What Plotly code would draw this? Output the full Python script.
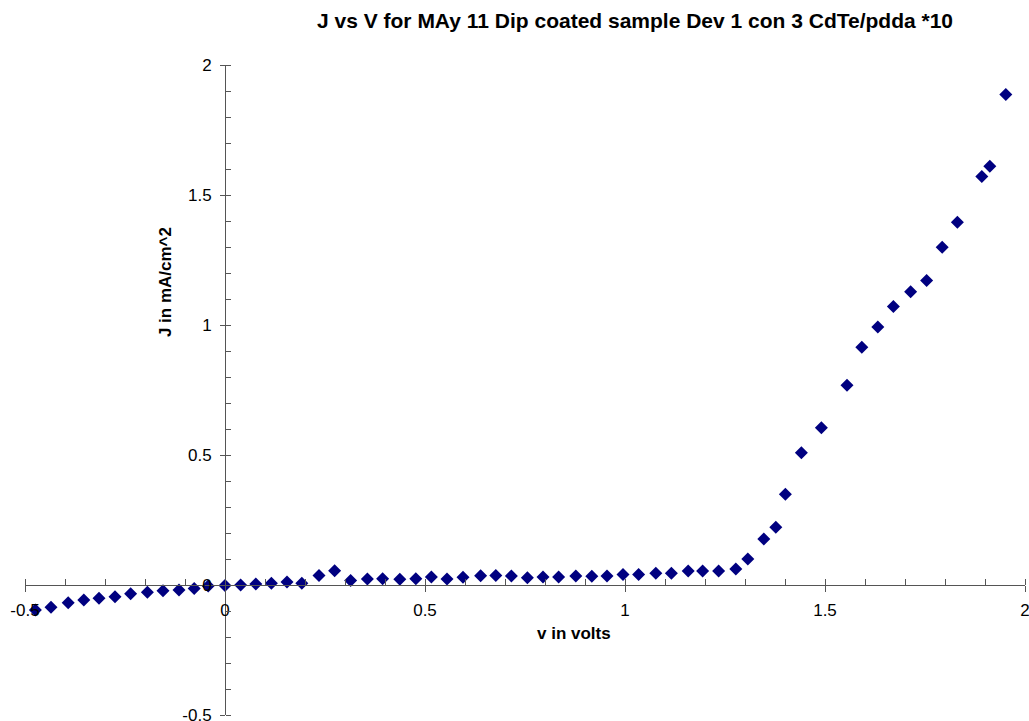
import plotly.graph_objects as go

voltage = [-0.474, -0.435, -0.392, -0.353, -0.315, -0.275, -0.236, -0.194, -0.155, -0.115,
           -0.077, -0.042, 0.0, 0.039, 0.077, 0.116, 0.155, 0.192, 0.235, 0.274,
           0.314, 0.356, 0.394, 0.437, 0.477, 0.516, 0.555, 0.595, 0.639, 0.677,
           0.716, 0.756, 0.795, 0.834, 0.877, 0.917, 0.955, 0.995, 1.034, 1.077,
           1.116, 1.158, 1.194, 1.234, 1.277, 1.307, 1.347, 1.377, 1.401, 1.441,
           1.491, 1.555, 1.592, 1.632, 1.671, 1.714, 1.754, 1.793, 1.831, 1.892,
           1.912, 1.952]
current = [-0.096, -0.086, -0.068, -0.058, -0.051, -0.045, -0.034, -0.028, -0.022, -0.019,
           -0.013, -0.004, -0.002, 0.0, 0.004, 0.007, 0.012, 0.007, 0.037, 0.055,
           0.017, 0.023, 0.024, 0.022, 0.024, 0.031, 0.023, 0.030, 0.036, 0.037,
           0.035, 0.028, 0.031, 0.031, 0.035, 0.034, 0.035, 0.040, 0.040, 0.045,
           0.045, 0.054, 0.054, 0.054, 0.062, 0.100, 0.177, 0.222, 0.349, 0.509,
           0.605, 0.768, 0.914, 0.992, 1.071, 1.128, 1.171, 1.299, 1.395, 1.571,
           1.611, 1.887]

title_text = "J vs V for MAy 11 Dip coated sample Dev 1 con 3 CdTe/pdda *10"
x_title = "v in volts"
y_title = "J in mA/cm^2"
x_ticks = [-0.5, 0, 0.5, 1, 1.5, 2]
y_ticks = [-0.5, 0, 0.5, 1, 1.5, 2]

FONT = "Liberation Sans, Arial, sans-serif"
AX = "#555555"

fig = go.Figure()
fig.add_trace(go.Scatter(
    x=voltage, y=current, mode="markers",
    marker=dict(symbol="diamond", size=10, color="#000080", line=dict(width=0)),
    showlegend=False, cliponaxis=False,
))

fig.update_layout(
    width=1029, height=721,
    margin=dict(l=25, r=4, t=65, b=6, autoexpand=False),
    paper_bgcolor="white", plot_bgcolor="white",
    font=dict(family=FONT, size=17, color="black"),
    xaxis=dict(
        range=[-0.5, 2], tickvals=x_ticks, ticktext=[str(v) for v in x_ticks],
        anchor="free", position=0.2, automargin=False,
        showline=True, linecolor=AX, linewidth=1,
        ticks="outside", ticklen=6, tickcolor=AX, tickwidth=1,
        minor=dict(dtick=0.1, tick0=0, ticks="inside", ticklen=6, tickcolor=AX, tickwidth=1),
        showgrid=False, zeroline=False, ticklabelstandoff=4,
        ticklabeloverflow="allow",
        tickfont=dict(family=FONT, size=17, color="black"),
    ),
    yaxis=dict(
        range=[-0.5, 2], tickvals=y_ticks, ticktext=[str(v) for v in y_ticks],
        anchor="free", position=0.2, automargin=False,
        showline=True, linecolor=AX, linewidth=1,
        ticks="outside", ticklen=5, tickcolor=AX, tickwidth=1,
        minor=dict(dtick=0.1, tick0=0, ticks="inside", ticklen=5, tickcolor=AX, tickwidth=1),
        showgrid=False, zeroline=False, ticklabelstandoff=5,
        ticklabeloverflow="allow",
        tickfont=dict(family=FONT, size=17, color="black"),
    ),
    annotations=[
        dict(text=title_text, xref="paper", yref="paper", x=0.61, y=1.0677,
             showarrow=False, xanchor="center", yanchor="middle",
             font=dict(family=FONT, size=21, color="black", weight="bold")),
        dict(text=x_title, xref="paper", yref="paper", x=0.549, y=0.126,
             showarrow=False, xanchor="center", yanchor="middle",
             font=dict(family=FONT, size=17, color="black", weight="bold")),
        dict(text=y_title, xref="paper", yref="paper", x=0.14, y=0.666, textangle=-90,
             showarrow=False, xanchor="center", yanchor="middle",
             font=dict(family=FONT, size=17, color="black", weight="bold")),
    ],
)

fig.write_html("out.html")
